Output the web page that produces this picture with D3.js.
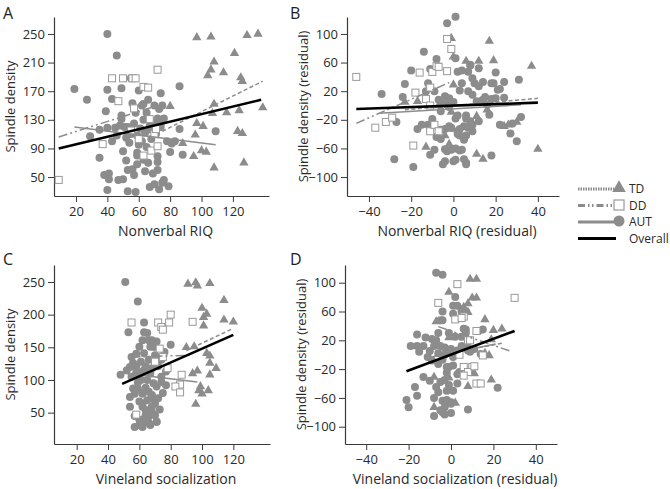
<!DOCTYPE html>
<html><head><meta charset="utf-8">
<script src="https://cdn.jsdelivr.net/npm/d3@7"></script>
<style>body{margin:0;background:#fff}svg{display:block}text{font-family:"Open Sans",sans-serif}</style>
</head><body><svg id="c" width="670" height="489"></svg>
<script>
// ---------------- DATA ----------------
const groups = ["TD", "DD", "AUT", "Overall"];

// Panel A: Nonverbal RIQ vs spindle density
const autA = [[40,250],[46,220],[19,173],[27,158],[40,172],[49,174],[43,159],[39,142],[55,188],[60,171],[56,153],[62,150],[66,158],[49,136],[49,131],[29,107],[35,116],[40,119],[45,119],[48,122],[51,120],[53,120],[59,108],[64,112],[68,126],[43,100],[35,77],[50,86],[54,98],[59,84],[59,80],[52,73],[53,60],[56,61],[57,53],[59,68],[63,74],[38,53],[41,55],[41,47],[47,46],[50,47],[40,32],[53,30],[58,29],[67,36],[86,177],[74,167],[63,152],[75,150],[70,150],[73,145],[76,132],[72,132],[70,127],[74,125],[67,122],[74,120],[71,119],[66,116],[71,110],[86,117],[109,114],[78,100],[81,97],[83,100],[80,85],[88,81],[72,79],[72,71],[72,60],[70,40],[73,33],[75,42],[76,46],[79,37],[57,125],[61,118],[63,130],[55,110],[62,100],[65,92],[68,103],[58,140],[65,140],[52,105],[46,108],[60,95],[66,70],[64,58],[69,55]];
const tdA = [[97,245],[106,246],[129,248],[136,250],[121,223],[108,211],[106,200],[104,192],[114,196],[125,189],[126,184],[139,147],[108,152],[107,139],[116,140],[124,143],[80,149],[97,125],[101,121],[96,109],[88,97],[100,87],[103,85],[95,79],[123,114],[126,111],[108,63],[127,70]];
const ddA = [[9,46],[43,188],[50,188],[56,188],[58,188],[72,200],[47,156],[63,176],[66,175],[57,146],[67,131],[37,96],[70,110],[63,80],[68,87],[71,117],[72,93],[60,103],[55,115]];
const fitA = [["TD",75,114,139,184],["DD",9,106,72,150],["AUT",19,120,109,95],["Overall",9,90,138,158]];

// Panel B: residuals
const autB = [[1,124],[-3,115],[-14,75],[-8,65],[-20,49],[-11,51],[2,47],[1,66],[-23,30],[-34,16],[-24,12],[-12,31],[-13,20],[-9,20],[-4,13],[-5,3],[-6,-8],[-3,1],[-2,-2],[0,5],[3,21],[4,31],[7,20],[9,38],[10,31],[12,27],[14,33],[9,15],[7,47],[4,49],[8,56],[11,6],[14,8],[16,1],[19,31],[21,22],[22,-27],[17,-13],[-27,-23],[-15,-27],[-17,-33],[-12,-27],[-11,-32],[-10,-19],[-6,-34],[-8,-44],[-6,-47],[-4,-33],[-1,-31],[1,-18],[2,-36],[3,-42],[5,-48],[6,-42],[7,-31],[9,-27],[6,-18],[9,-36],[12,-22],[-11,-69],[-9,-62],[-4,-61],[-3,-64],[1,-60],[4,-62],[1,-76],[6,-80],[-4,-78],[-28,-75],[-19,-86],[18,-70],[8,57],[12,52],[20,46],[31,36],[24,33],[18,31],[22,23],[24,11],[20,10],[18,9],[15,12],[13,6],[32,-16],[28,-25],[27,-39],[30,-50],[-1,-62],[3,-63],[5,-75],[0,-78],[-5,-82],[6,-82],[2,-14],[6,-14],[8,-22],[5,-29],[-2,-29],[3,-33],[2,-40],[-2,10],[-7,8]];
const tdB = [[-1,94],[17,90],[0,68],[6,62],[12,62],[19,63],[0,29],[-17,6],[-23,5],[-7,0],[-1,-9],[11,-15],[16,-6],[-13,-58],[-2,-54],[-4,-42],[11,-68],[37,55],[24,-29],[30,-23],[14,-75],[40,-61],[-1,-33],[26,-27]];
const ddB = [[-46,40],[-37,-31],[-32,-23],[-29,-17],[-19,-56],[-18,18],[-16,46],[-13,9],[-11,25],[-10,47],[-8,55],[-7,54],[-3,48],[-3,93],[-1,79],[-11,-36],[-9,-27],[-7,-36],[-11,0]];
const fitB = [["TD",-23,-6,40,10],["DD",-46,-25,-2,32],["AUT",-35,-11,32,1],["Overall",-46,-5,40,4]];

// Panel C: Vineland socialization vs spindle density
const autC = [[51,250],[59,220],[53,173],[63,188],[63,173],[60,151],[68,161],[69,151],[55,135],[56,126],[48,108],[52,115],[54,120],[58,121],[58,112],[55,105],[61,100],[63,115],[68,118],[56,87],[57,79],[62,79],[68,77],[60,67],[68,72],[62,64],[54,59],[57,45],[60,39],[64,54],[66,44],[61,31],[57,28],[64,36],[67,31],[62,28],[71,36],[66,49],[54,74],[59,87],[65,172],[62,161],[66,161],[68,156],[71,159],[70,151],[67,151],[80,154],[63,141],[76,143],[74,131],[66,131],[70,138],[64,121],[72,121],[62,113],[67,110],[74,105],[77,113],[74,97],[77,92],[71,90],[66,82],[72,72],[62,80],[65,69],[68,59],[62,59],[68,51],[64,46],[70,46],[71,36],[66,34],[62,39],[60,31],[58,140],[61,128],[65,100],[69,95],[59,96],[64,88],[70,64],[73,55],[75,80],[60,105]];
const tdC = [[91,247],[96,249],[97,244],[105,248],[114,222],[100,210],[101,196],[103,201],[114,192],[120,189],[101,183],[95,151],[103,141],[105,137],[105,126],[109,118],[105,108],[97,114],[94,110],[99,90],[100,79],[98,84],[104,84],[96,63],[90,150]];
const ddC = [[55,188],[72,188],[80,200],[79,188],[74,181],[75,177],[94,189],[73,148],[75,135],[87,108],[86,93],[83,90],[86,81],[58,47],[78,118],[70,128]];
const fitC = [["TD",90,145,120,179],["DD",55,135,94,138],["AUT",48,111,97,97],["Overall",49,94,120,169]];

// Panel D: residuals
const autD = [[-7,114],[-4,111],[2,80],[1,68],[-4,60],[5,60],[7,60],[1,57],[-5,48],[-4,48],[6,36],[7,30],[2,25],[-16,28],[-12,24],[-9,22],[-7,20],[-8,12],[-19,12],[-16,12],[-13,12],[-5,12],[-3,10],[0,8],[-15,4],[-11,-3],[-10,5],[-6,2],[-3,0],[-1,4],[1,-3],[3,6],[5,12],[8,10],[9,4],[-9,-8],[-6,-13],[-4,-7],[-1,-17],[1,-15],[4,-24],[3,-27],[-13,-31],[-10,-36],[-17,-45],[-16,-57],[-7,-45],[-5,-38],[-3,-35],[-1,-42],[-2,-50],[-6,-52],[-21,-63],[-20,-73],[-4,-64],[-2,-66],[-3,-73],[0,-66],[-4,-80],[0,-81],[-8,-85],[-3,-83],[8,-76],[3,-40],[3,68],[5,63],[7,35],[15,35],[13,33],[5,25],[11,8],[8,6],[14,1],[-2,-17],[22,-46],[-2,-63],[0,-68],[-5,-77],[-1,30],[-6,30],[-2,-25],[1,-50],[-8,-60],[10,-20]];
const tdD = [[9,105],[-1,87],[10,79],[8,71],[-7,46],[-1,24],[6,24],[16,49],[20,34],[19,21],[16,2],[11,-26],[-8,-31],[-1,-32],[8,-44],[-8,-73],[19,-35],[12,105],[12,79],[6,66],[8,59],[24,36],[18,-1],[2,-67]];
const ddD = [[3,98],[-6,72],[2,49],[6,53],[12,33],[8,20],[6,-17],[10,-17],[8,-24],[6,-29],[12,-40],[30,79],[5,51],[9,20],[15,-1],[11,-16],[14,-40],[4,0]];
const fitD = [["TD",-8,-2,24,16],["DD",-6,39,28,5],["AUT",-12,-5,21,15],["Overall",-21,-23,30,33]];

// Axis ticks and labels
const ticksRIQ = [20,40,60,80,100,120];
const ticksResid = [-40,-20,0,20,40];
const ticksDensA = [50,90,130,170,210,250];
const ticksDensC = [50,100,150,200,250];
const ticksResidY = [-100,-60,-20,20,60,100];

// ---------------- DRAW ----------------
const svg = d3.select("#c");
const GRAY = "#8c8c8c";
const styles = {
  TD: {stroke: GRAY, width: 1.5, dash: "4,2.5"},
  DD: {stroke: GRAY, width: 1.5, dash: "9,3,2,3,2,3"},
  AUT: {stroke: GRAY, width: 1.5, dash: null},
  Overall: {stroke: "#000", width: 2.6, dash: null}
};

const panels = [
  {letter:"A", aut:autA, td:tdA, dd:ddA, fit:fitA, xt:ticksRIQ, yt:ticksDensA, xd:[6,143], yd:[23.5,273.7], L:54, R:269, T:17, B:196, xl:"Nonverbal RIQ", yl:"Spindle density", lx:3, ly:19},
  {letter:"B", aut:autB, td:tdB, dd:ddB, fit:fitB, xt:ticksResid, yt:ticksResidY, xd:[-50.4,50], yd:[-126.5,123.7], L:347, R:559, T:17, B:196, xl:"Nonverbal RIQ (residual)", yl:"Spindle density (residual)", lx:290, ly:19},
  {letter:"C", aut:autC, td:tdC, dd:ddC, fit:fitC, xt:ticksRIQ, yt:ticksDensC, xd:[5.5,143.4], yd:[2,276], L:54, R:270, T:265, B:444, xl:"Vineland socialization", yl:"Spindle density", lx:3, ly:265},
  {letter:"D", aut:autD, td:tdD, dd:ddD, fit:fitD, xt:ticksResid, yt:ticksResidY, xd:[-50,50], yd:[-124,124.6], L:345, R:557, T:265, B:444, xl:"Vineland socialization (residual)", yl:"Spindle density (residual)", lx:290, ly:265}
];

const tri = d3.symbol().type(d3.symbolTriangle).size(38);

panels.forEach(p => {
  const x = d3.scaleLinear().domain(p.xd).range([p.L, p.R]);
  const y = d3.scaleLinear().domain(p.yd).range([p.B, p.T]);
  const g = svg.append("g");

  const xa = g.append("g").attr("transform", `translate(0,${p.B})`)
    .call(d3.axisBottom(x).tickValues(p.xt).tickSize(6).tickSizeOuter(0).tickPadding(5));
  const ya = g.append("g").attr("transform", `translate(${p.L},0)`)
    .call(d3.axisLeft(y).tickValues(p.yt).tickSize(6).tickSizeOuter(0).tickPadding(3));
  [xa, ya].forEach(a => {
    a.select(".domain").attr("stroke", "#3a3a3a").attr("stroke-width", 1.2);
    a.selectAll(".tick line").attr("stroke", "#3a3a3a");
    a.selectAll(".tick text").attr("fill", "#2a2a2a").style("font-size", "13px").style("font-family", "'Open Sans', sans-serif");
  });

  // points
  g.append("g").selectAll("circle").data(p.aut).join("circle")
    .attr("cx", d => x(d[0])).attr("cy", d => y(d[1])).attr("r", 4)
    .attr("fill", GRAY);
  g.append("g").selectAll("path").data(p.td).join("path")
    .attr("d", tri).attr("transform", d => `translate(${x(d[0])},${y(d[1])})`)
    .attr("fill", GRAY);
  g.append("g").selectAll("rect").data(p.dd).join("rect")
    .attr("x", d => x(d[0]) - 3.5).attr("y", d => y(d[1]) - 3.5)
    .attr("width", 7).attr("height", 7)
    .attr("fill", "#fff").attr("stroke", "#999").attr("stroke-width", 1);

  // fit lines
  g.append("g").selectAll("line").data(p.fit).join("line")
    .attr("x1", d => x(d[1])).attr("y1", d => y(d[2]))
    .attr("x2", d => x(d[3])).attr("y2", d => y(d[4]))
    .attr("stroke", d => styles[d[0]].stroke)
    .attr("stroke-width", d => styles[d[0]].width)
    .attr("stroke-dasharray", d => styles[d[0]].dash);

  // labels
  g.append("text").attr("x", p.lx).attr("y", p.ly).text(p.letter)
    .style("font-size", "16px").attr("fill", "#222");
  g.append("text").attr("x", (p.L + p.R) / 2 + 4).attr("y", p.B + 40)
    .attr("text-anchor", "middle").style("font-size", "14px").attr("fill", "#2a2a2a").text(p.xl);
  g.append("text").attr("transform", `translate(${p.L - 39},${(p.T + p.B) / 2}) rotate(-90)`)
    .attr("text-anchor", "middle").style("font-size", "13px").attr("fill", "#2a2a2a").text(p.yl);
});

// legend
const legRows = [189, 205.5, 222, 238.5];
const legDash = {TD: "1.5,1", DD: "7,3,1.5,2.5,1.5,3", AUT: null, Overall: null};
const lg = svg.append("g");
groups.forEach((k, i) => {
  const yy = legRows[i];
  lg.append("line").attr("x1", 578).attr("x2", k === "Overall" ? 616 : 614).attr("y1", yy).attr("y2", yy)
    .attr("stroke", styles[k].stroke).attr("stroke-width", k === "Overall" ? 2.8 : 3)
    .attr("stroke-dasharray", legDash[k]);
  if (k === "TD") lg.append("path").attr("d", d3.symbol().type(d3.symbolTriangle).size(80)()).attr("transform", `translate(619,${yy - 1})`).attr("fill", GRAY);
  if (k === "DD") lg.append("rect").attr("x", 614).attr("y", yy - 5.5).attr("width", 10).attr("height", 10).attr("fill", "#fff").attr("stroke", "#999").attr("stroke-width", 1.2);
  if (k === "AUT") lg.append("circle").attr("cx", 619).attr("cy", yy - 1).attr("r", 5.5).attr("fill", GRAY);
  lg.append("text").attr("x", 629).attr("y", yy + 4).text(k).style("font-size", "12px").attr("fill", "#2a2a2a");
});
</script></body></html>
